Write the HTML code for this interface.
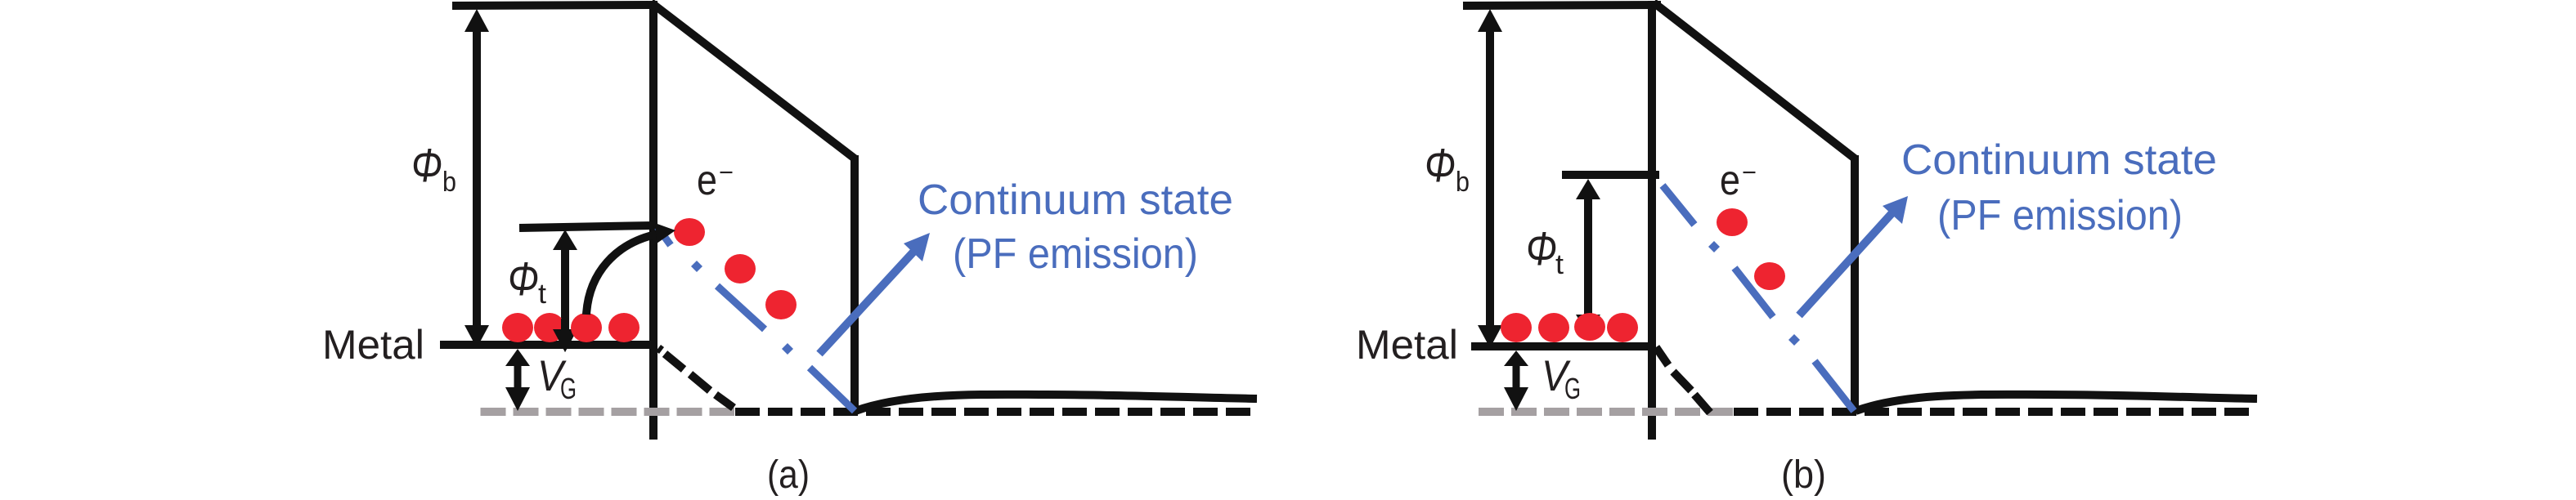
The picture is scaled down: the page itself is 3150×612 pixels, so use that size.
<!DOCTYPE html>
<html>
<head>
<meta charset="utf-8">
<style>
html,body{margin:0;padding:0;background:#fff;}
svg{display:block;}
text{font-family:"Liberation Sans",sans-serif;fill:#231f20;}
.blue{fill:#4a6dbd;}
</style>
</head>
<body>
<svg width="3150" height="612" viewBox="0 0 3150 612" xmlns="http://www.w3.org/2000/svg">
<rect width="3150" height="612" fill="#fff"/>

<!-- (a) -->
<g stroke="#111" fill="none" stroke-width="10">
  <path d="M553,7 L794,6"/>
  <path d="M799,1 V538"/>
  <path d="M796,3 L1045,194" />
  <path d="M1045,190 V503" stroke-width="10"/>
  <path d="M538,422 H799"/>
  <path d="M635,279 L799,276"/>
  <path d="M1046,503 C1110,480 1200,483 1280,483 S1480,487 1537,488"/>
  <path d="M899,504 H1530" stroke-dasharray="30 10"/>
</g>
<path d="M587.5,504 H898" stroke="#a5a0a2" stroke-width="10" stroke-dasharray="31 9" fill="none"/>
<g stroke="#111" stroke-width="10" fill="none">
  <path d="M805,426 L809,429"/>
  <path d="M813,433 L836,452"/>
  <path d="M844,458 L868,478"/>
  <path d="M875,483 L897,499"/>
</g>
<g fill="#111">
  <!-- phi b arrow -->
  <rect x="578" y="36" width="10" height="364"/>
  <polygon points="583,11 598,39 568,39"/>
  <polygon points="568,398 598,398 583,426"/>
  <!-- VG arrow -->
  <rect x="628.5" y="445" width="9" height="32"/>
  <polygon points="633,427 648,448 618,448"/>
  <polygon points="618,474 648,474 633,503"/>
</g>
<!-- blue a -->
<g stroke="#4a6dbd" stroke-width="9" fill="none">
  <path d="M804,278 L820,300"/>
  <path d="M877,350 L935,403"/>
  <path d="M990,450 L1045,503"/>
  <path d="M1002,433 L1120,305" stroke-width="10"/>
</g>
<g class="blue">
  <polygon points="852,319 859,326 852,333 845,326"/>
  <polygon points="963,420 970,427 963,434 956,427"/>
  <polygon points="1105,298 1137,285 1128,320"/>
</g>
<!-- phi t arrow & curve -->
<g fill="#111">
  <rect x="686" y="304" width="10" height="102"/>
  <polygon points="691,281 706,306 676,306"/>
  <polygon points="676,403 706,403 691,431"/>
</g>
<g fill="#ee2430">
  <ellipse cx="633" cy="401" rx="19" ry="18"/>
  <ellipse cx="672" cy="401" rx="19" ry="18"/>
</g>
<g fill="#111">
  <rect x="686" y="390" width="10" height="14"/>
  <polygon points="676,403 706,403 691,431"/>
</g>
<g fill="#ee2430">
  <ellipse cx="717" cy="401" rx="19" ry="18"/>
  <ellipse cx="763" cy="401" rx="19" ry="18"/>
  <ellipse cx="843" cy="284" rx="19" ry="17"/>
  <ellipse cx="905" cy="329" rx="19" ry="18"/>
  <ellipse cx="955" cy="373" rx="19" ry="18"/>
</g>
<path d="M717,385 C720,335 752,297 806,286" stroke="#111" stroke-width="10" fill="none"/>
<polygon points="801,273 826,282 803,298" fill="#111"/>

<!-- (a) text -->
<text x="394" y="439" font-size="50" textLength="125" lengthAdjust="spacingAndGlyphs">Metal</text>
<text x="503" y="222" font-size="58" font-style="italic" textLength="38" lengthAdjust="spacingAndGlyphs">Φ</text>
<text x="541" y="234" font-size="34" textLength="17" lengthAdjust="spacingAndGlyphs">b</text>
<text x="621" y="361" font-size="58" font-style="italic" textLength="38" lengthAdjust="spacingAndGlyphs">Φ</text>
<text x="658" y="371" font-size="34" textLength="10" lengthAdjust="spacingAndGlyphs">t</text>
<text x="657" y="478" font-size="53" font-style="italic" textLength="32" lengthAdjust="spacingAndGlyphs">V</text>
<text x="685" y="488" font-size="36" textLength="20" lengthAdjust="spacingAndGlyphs">G</text>
<text x="852" y="238" font-size="52" textLength="25" lengthAdjust="spacingAndGlyphs">e</text>
<text x="879" y="221" font-size="30" textLength="18" lengthAdjust="spacingAndGlyphs">−</text>
<text class="blue" x="1122" y="262" font-size="52" textLength="386" lengthAdjust="spacingAndGlyphs">Continuum state</text>
<text class="blue" x="1165" y="328" font-size="52" textLength="300" lengthAdjust="spacingAndGlyphs">(PF emission)</text>
<text x="938" y="597" font-size="48" textLength="52" lengthAdjust="spacingAndGlyphs">(a)</text>

<!-- (b) -->
<g stroke="#111" fill="none" stroke-width="10">
  <path d="M1789,7 L2031,6"/>
  <path d="M2020,1 V538"/>
  <path d="M2022,3 L2268,194"/>
  <path d="M2268,190 V503"/>
  <path d="M1799,424 H2021"/>
  <path d="M1910,214 H2029"/>
  <path d="M2269,503 C2333,480 2423,483 2503,483 S2703,487 2760,488"/>
  <path d="M2120,504 H2752" stroke-dasharray="30 10"/>
</g>
<path d="M1808,504 H2120" stroke="#a5a0a2" stroke-width="10" stroke-dasharray="31 9" fill="none"/>
<g stroke="#111" stroke-width="10" fill="none">
  <path d="M2025,425 L2040,447"/>
  <path d="M2046,455 L2068,478"/>
  <path d="M2072,483 L2091,505"/>
</g>
<g fill="#111">
  <rect x="1817" y="36" width="10" height="364"/>
  <polygon points="1822,11 1837,39 1807,39"/>
  <polygon points="1807,398 1837,398 1822,426"/>
  <rect x="1849.5" y="445" width="9" height="32"/>
  <polygon points="1854,429 1869,448 1839,448"/>
  <polygon points="1839,474 1869,474 1854,503"/>
  <rect x="1937" y="242" width="10" height="145"/>
  <polygon points="1942,219 1957,244 1927,244"/>
  <polygon points="1927,385 1957,385 1942,410"/>
</g>
<g stroke="#4a6dbd" stroke-width="9" fill="none">
  <path d="M2033,227 L2072,275"/>
  <path d="M2121,328 L2168,388"/>
  <path d="M2219,442 L2267,503"/>
  <path d="M2200,386 L2318,256" stroke-width="10"/>
</g>
<g class="blue">
  <polygon points="2096,295 2103,302 2096,309 2089,302"/>
  <polygon points="2194,409 2201,416 2194,423 2187,416"/>
  <polygon points="2302,252 2333,240 2326,274"/>
</g>
<g fill="#ee2430">
  <ellipse cx="1854" cy="401" rx="19" ry="18"/>
  <ellipse cx="1900" cy="401" rx="19" ry="18"/>
  <ellipse cx="1944" cy="400" rx="19" ry="17"/>
  <ellipse cx="1984" cy="401" rx="19" ry="18"/>
  <ellipse cx="2118" cy="272" rx="19" ry="17"/>
  <ellipse cx="2164" cy="338" rx="19" ry="17"/>
</g>

<!-- (b) text -->
<text x="1658" y="439" font-size="50" textLength="125" lengthAdjust="spacingAndGlyphs">Metal</text>
<text x="1742" y="222" font-size="58" font-style="italic" textLength="38" lengthAdjust="spacingAndGlyphs">Φ</text>
<text x="1780" y="234" font-size="34" textLength="17" lengthAdjust="spacingAndGlyphs">b</text>
<text x="1866" y="324" font-size="58" font-style="italic" textLength="38" lengthAdjust="spacingAndGlyphs">Φ</text>
<text x="1902" y="335" font-size="34" textLength="10" lengthAdjust="spacingAndGlyphs">t</text>
<text x="1885" y="478" font-size="53" font-style="italic" textLength="32" lengthAdjust="spacingAndGlyphs">V</text>
<text x="1913" y="488" font-size="36" textLength="20" lengthAdjust="spacingAndGlyphs">G</text>
<text x="2103" y="238" font-size="52" textLength="25" lengthAdjust="spacingAndGlyphs">e</text>
<text x="2130" y="221" font-size="30" textLength="18" lengthAdjust="spacingAndGlyphs">−</text>
<text class="blue" x="2325" y="213" font-size="52" textLength="386" lengthAdjust="spacingAndGlyphs">Continuum state</text>
<text class="blue" x="2369" y="281" font-size="52" textLength="300" lengthAdjust="spacingAndGlyphs">(PF emission)</text>
<text x="2178" y="597" font-size="48" textLength="55" lengthAdjust="spacingAndGlyphs">(b)</text>
</svg>
</body>
</html>
